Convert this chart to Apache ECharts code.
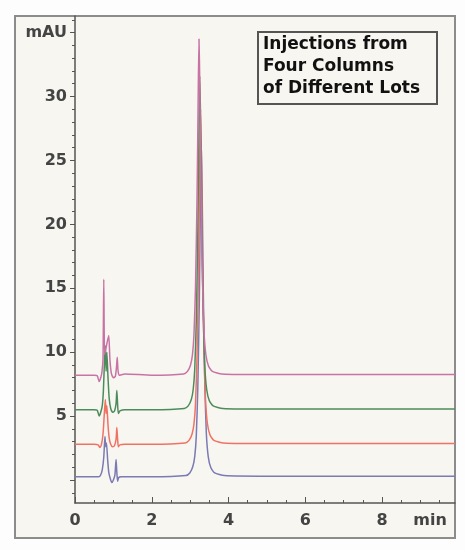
<!DOCTYPE html>
<html>
<head>
<meta charset="utf-8">
<script src="https://cdn.jsdelivr.net/npm/echarts@6/dist/echarts.min.js"></script>
<style>
html,body{margin:0;padding:0;background:#fdfdfd;}
#chart{width:465px;height:550px;}
</style>
</head>
<body>
<div id="chart"></div>
<script>
// ---- data (time in min, absorbance in mAU) ----
const xTickLabels = [0, 2, 4, 6, 8];
const xUnitLabel = 'min';
const yTickLabels = [5, 10, 15, 20, 25, 30];
const yUnitLabel = 'mAU';
const boxTitle = ['Injections from', 'Four Columns', 'of Different Lots'];

const blueTrace = [
  [0,0.25],[0.5,0.25],[0.6,0.25],[0.66,0.35],[0.71,0.8],[0.75,1.8],[0.78,3.4],[0.80,2.6],[0.82,2.9],[0.85,1.6],[0.88,0.6],[0.92,0.1],[0.96,-0.2],[1.0,0.0],[1.04,0.4],[1.07,1.6],[1.09,0.6],[1.11,-0.1],[1.14,0.2],[1.2,0.25],[2.0,0.25],
  [2.89,0.35],[2.99,0.55],[3.07,1.05],[3.12,1.85],[3.16,3.45],[3.20,7.25],[3.24,14.25],[3.27,22.25],[3.29,26.4],[3.31,23.25],[3.34,15.25],[3.38,7.75],[3.42,3.75],[3.47,1.85],[3.54,0.95],[3.64,0.55],[3.89,0.35],[5.0,0.3],[9.9,0.3]
];
const redTrace = [
  [0,2.8],[0.5,2.8],[0.6,2.75],[0.65,2.55],[0.69,2.8],[0.73,3.6],[0.76,5.0],[0.79,6.3],[0.81,5.2],[0.83,5.8],[0.86,4.3],[0.89,3.3],[0.93,2.8],[0.98,2.6],[1.03,2.7],[1.07,3.2],[1.09,4.1],[1.11,3.2],[1.13,2.6],[1.17,2.75],[1.3,2.8],[2.0,2.8],
  [2.87,2.9],[2.97,3.1],[3.05,3.6],[3.10,4.4],[3.14,6.0],[3.18,9.8],[3.22,16.8],[3.25,24.8],[3.27,29.0],[3.29,25.8],[3.32,17.8],[3.36,10.3],[3.40,6.3],[3.45,4.4],[3.52,3.5],[3.62,3.1],[3.87,2.9],[5.0,2.85],[9.9,2.85]
];
const greenTrace = [
  [0,5.5],[0.5,5.5],[0.58,5.45],[0.63,5.0],[0.67,5.3],[0.71,5.8],[0.74,7.0],[0.77,9.5],[0.79,10.5],[0.81,8.5],[0.83,10.0],[0.86,8.0],[0.89,6.4],[0.93,5.6],[0.98,5.3],[1.03,5.4],[1.07,6.0],[1.09,7.0],[1.11,5.9],[1.13,5.2],[1.17,5.4],[1.3,5.5],[2.0,5.5],
  [2.85,5.6],[2.95,5.8],[3.03,6.3],[3.08,7.1],[3.12,8.7],[3.16,12.5],[3.20,19.5],[3.23,27.5],[3.25,31.6],[3.27,28.5],[3.30,20.5],[3.34,13.0],[3.38,9.0],[3.43,7.1],[3.50,6.2],[3.60,5.8],[3.85,5.6],[5.0,5.55],[9.9,5.55]
];
const pinkTrace = [
  [0,8.2],[0.5,8.2],[0.58,8.15],[0.63,7.7],[0.67,8.0],[0.70,8.4],[0.73,9.5],[0.75,15.7],[0.77,9.8],[0.80,10.2],[0.84,10.8],[0.88,11.3],[0.91,9.4],[0.95,8.3],[1.0,8.0],[1.05,8.1],[1.08,8.8],[1.10,9.6],[1.12,8.6],[1.15,8.2],[1.3,8.3],[2.0,8.2],
  [2.83,8.3],[2.93,8.5],[3.01,9.0],[3.06,9.8],[3.10,11.4],[3.14,15.2],[3.18,22.2],[3.21,30.2],[3.23,34.5],[3.25,31.2],[3.28,23.2],[3.32,15.7],[3.36,11.7],[3.41,9.8],[3.48,8.9],[3.58,8.5],[3.83,8.3],[5.0,8.25],[9.9,8.25]
];

// ---- layout / style ----
const X_MIN = 0, X_MAX = 9.9, Y_MIN = -1.8, Y_MAX = 36.3;
const xUnitPos = 9.25, yUnitPos = 35;
const xMinor = []; for (let v = 0.5; v < X_MAX; v += 0.5) xMinor.push(+v.toFixed(2));
const yMinor = []; for (let v = -1; v <= 36; v += 1) if (v % 5 !== 0) yMinor.push(v);
const yMajor = [0].concat(yTickLabels, [yUnitPos]);

const axisColor = '#555';
const labelStyle = {color: '#444', fontFamily: 'DejaVu Sans', fontSize: 16, fontWeight: 'bold'};

function line(name, data, color) {
  return {
    name, type: 'line', data, showSymbol: false, symbol: 'none',
    lineStyle: {color, width: 1.5}, smooth: 0.2, animation: false
  };
}

const chart = echarts.init(document.getElementById('chart'), null, {renderer: 'canvas'});
chart.setOption({
  backgroundColor: '#fdfdfd',
  animation: false,
  grid: {left: 75, right: 10, top: 16, bottom: 47, containLabel: false},
  xAxis: [{
    type: 'value', min: X_MIN, max: X_MAX,
    axisLine: {onZero: false, lineStyle: {color: axisColor, width: 1.5}},
    axisTick: {inside: true, length: 6, customValues: xTickLabels, lineStyle: {color: axisColor}},
    axisLabel: Object.assign({margin: 10, customValues: xTickLabels.concat([xUnitPos]),
      formatter: v => (Math.abs(v - xUnitPos) < 1e-6 ? xUnitLabel : String(v))}, labelStyle),
    splitLine: {show: false}
  }, {
    type: 'value', min: X_MIN, max: X_MAX, position: 'bottom',
    axisLine: {show: false, onZero: false},
    axisTick: {inside: true, length: 3, customValues: xMinor, lineStyle: {color: axisColor}},
    axisLabel: {show: false}, splitLine: {show: false}
  }],
  yAxis: [{
    type: 'value', min: Y_MIN, max: Y_MAX,
    axisLine: {show: true, onZero: false, lineStyle: {color: axisColor, width: 1.5}},
    axisTick: {show: true, length: 5, customValues: yMajor, lineStyle: {color: axisColor}},
    axisLabel: Object.assign({margin: 8, customValues: yTickLabels.concat([yUnitPos]),
      formatter: v => (v === yUnitPos ? yUnitLabel : String(v))}, labelStyle),
    splitLine: {show: false}
  }, {
    type: 'value', min: Y_MIN, max: Y_MAX, position: 'left',
    axisLine: {show: false, onZero: false},
    axisTick: {show: true, length: 3, customValues: yMinor, lineStyle: {color: axisColor}},
    axisLabel: {show: false}, splitLine: {show: false}
  }],
  series: [
    line('Lot 4', blueTrace, '#7a7ab4'),
    line('Lot 3', redTrace, '#f07264'),
    line('Lot 2', greenTrace, '#4c8c5c'),
    line('Lot 1', pinkTrace, '#c873a6')
  ],
  graphic: [
    {type: 'rect', z: -10, silent: true,
      shape: {x: 15, y: 16, width: 440, height: 522},
      style: {fill: '#f8f6f0', stroke: '#8c8c8c', lineWidth: 2}},
    {type: 'rect', z: 100, silent: true,
      shape: {x: 258, y: 32, width: 179, height: 72},
      style: {fill: '#f8f6f0', stroke: '#555', lineWidth: 2}},
    {type: 'text', z: 101, silent: true, left: 263, top: 34,
      style: {text: boxTitle.join('\n'), fill: '#111', font: 'bold 17px "DejaVu Sans"', lineHeight: 22}}
  ]
});
</script>
</body>
</html>
